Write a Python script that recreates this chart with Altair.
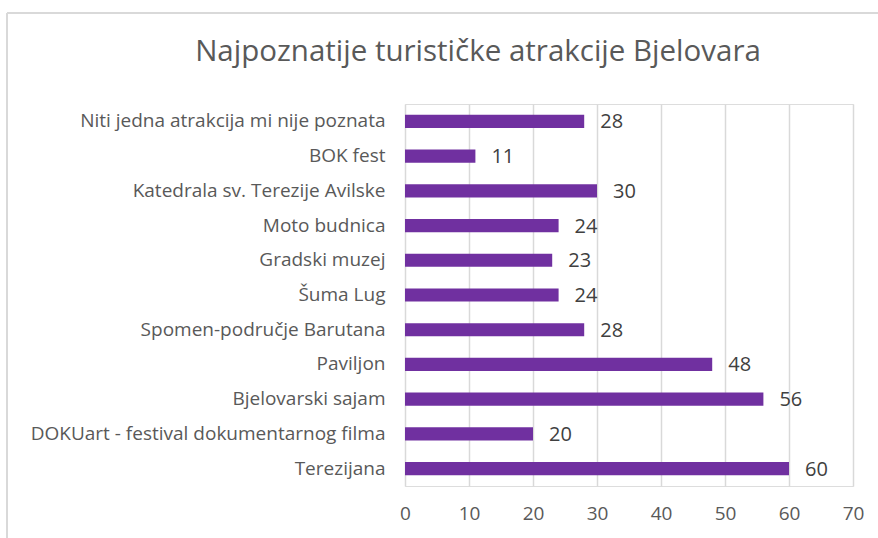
import altair as alt
import pandas as pd

categories = [
    "Niti jedna atrakcija mi nije poznata",
    "BOK fest",
    "Katedrala sv. Terezije Avilske",
    "Moto budnica",
    "Gradski muzej",
    "Šuma Lug",
    "Spomen-područje Barutana",
    "Paviljon",
    "Bjelovarski sajam",
    "DOKUart - festival dokumentarnog filma",
    "Terezijana",
]
values = [28, 11, 30, 24, 23, 24, 28, 48, 56, 20, 60]
x_ticks = [0, 10, 20, 30, 40, 50, 60, 70]
title_text = "Najpoznatije turističke atrakcije Bjelovara"

df = pd.DataFrame({"cat": categories, "val": values})

FONT = "Open Sans"
W, H = 448, 382
PAD_L, PAD_T, PAD_R, PAD_B = 405, 104, 25, 52

y_enc = alt.Y("cat:N", sort=categories, title=None,
              scale=alt.Scale(paddingInner=0.62, paddingOuter=0.31),
              axis=alt.Axis(domain=False, ticks=False, labelFont=FONT, labelFontSize=19,
                            labelColor="#595959", labelPadding=20, labelLimit=400))
x_enc = alt.X("val:Q", title=None,
              scale=alt.Scale(domain=[0, 70], nice=False),
              axis=alt.Axis(values=x_ticks, domain=False, ticks=False, grid=True,
                            gridColor="#d9d9d9", gridWidth=1.5, labelFlush=False,
                            labelOverlap=False,
                            labelFont=FONT, labelFontSize=19, labelColor="#595959",
                            labelPadding=18))

bars = alt.Chart(df).mark_bar(color="#7030A0").encode(x=x_enc, y=y_enc)
labels = alt.Chart(df).mark_text(align="left", baseline="middle", dx=16, dy=1,
                                 font=FONT, fontSize=20, color="#404040").encode(
    x="val:Q", y=alt.Y("cat:N", sort=categories), text="val:Q")

frame_top = alt.Chart(df).mark_rule(color="#d9d9d9", strokeWidth=2).encode(
    x=alt.value(-398), x2=alt.value(W + PAD_R), y=alt.value(-91))
frame_left = alt.Chart(df).mark_rule(color="#d9d9d9", strokeWidth=2).encode(
    x=alt.value(-398), y=alt.value(-91), y2=alt.value(H + PAD_B))

title = alt.Chart(pd.DataFrame({"t": [title_text]})).mark_text(
    font=FONT, fontSize=29.5, color="#595959", align="center", baseline="alphabetic").encode(
    text="t:N", x=alt.value(73), y=alt.value(-43))

chart = alt.layer(frame_top, frame_left, bars, labels, title).properties(
    width=W, height=H,
    autosize=alt.AutoSizeParams(type="none"),
    padding={"left": PAD_L, "top": PAD_T, "right": PAD_R, "bottom": PAD_B},
).configure_view(stroke=None).configure(background="white")

chart.save("out.html", embed_options={"renderer": "svg", "actions": False})
